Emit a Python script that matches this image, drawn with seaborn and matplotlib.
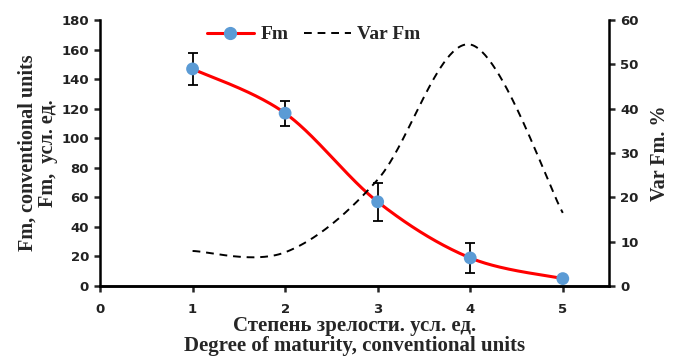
import numpy as np
import pandas as pd
import matplotlib
matplotlib.use("Agg")
import matplotlib.pyplot as plt
from matplotlib.lines import Line2D
import seaborn as sns

# ---- data ----
degree = [1, 2, 3, 4, 5]
fm = [147, 117, 57, 19, 5]
fm_err = [11, 8.5, 13, 10, 0]
var_fm = [7.9, 7.6, 24, 54.5, 16.5]
x_ticks = [0, 1, 2, 3, 4, 5]
y_ticks = [0, 20, 40, 60, 80, 100, 120, 140, 160, 180]
y2_ticks = [0, 10, 20, 30, 40, 50, 60]


def smooth(xs, ys, n=60):
    """Excel-style smoothed line (Bezier through points with Catmull-Rom tangents)."""
    xs = np.asarray(xs, float)
    ys = np.asarray(ys, float)
    P = np.column_stack([xs, ys])
    out = []
    for i in range(len(P) - 1):
        p0 = P[i - 1] if i > 0 else P[i]
        p1 = P[i]
        p2 = P[i + 1]
        p3 = P[i + 2] if i + 2 < len(P) else P[i + 1]
        c1 = p1 + (p2 - p0) / 6.0
        c2 = p2 - (p3 - p1) / 6.0
        t = np.linspace(0, 1, n)[:, None]
        seg = ((1 - t) ** 3) * p1 + 3 * ((1 - t) ** 2) * t * c1 + 3 * (1 - t) * t ** 2 * c2 + t ** 3 * p2
        out.append(seg if i == 0 else seg[1:])
    seg = np.vstack(out)
    return seg[:, 0], seg[:, 1]


sns.set_style("ticks")
plt.rcParams['font.family'] = ['DejaVu Sans']

fig = plt.figure(figsize=(6.73, 3.6), dpi=100)
ax = fig.add_axes([0.1486, 0.2056, 0.7564, 0.7384])
ax2 = ax.twinx()

sx, sy = smooth(degree, fm)
df_fm = pd.DataFrame({"x": sx, "y": sy})
sns.lineplot(data=df_fm, x="x", y="y", ax=ax, color="#FF0000", lw=2.2, sort=False, zorder=3)
ax.errorbar(degree[:4], fm[:4], yerr=fm_err[:4], fmt="none", ecolor="black", elinewidth=1.3,
            capsize=3.5, capthick=1.3, zorder=4)
sns.scatterplot(x=degree, y=fm, ax=ax, color="#5B9BD5", s=85, edgecolor="none", zorder=5)

vx, vy = smooth(degree, var_fm)
df_var = pd.DataFrame({"x": vx, "y": vy})
sns.lineplot(data=df_var, x="x", y="y", ax=ax2, color="black", lw=1.4, sort=False,
             dashes=False, linestyle=(0, (4, 3)))

ax.set_xlim(0, 5.5)
ax.set_ylim(0, 180)
ax2.set_ylim(0, 60)
ax.set_xticks(x_ticks)
ax.set_yticks(y_ticks)
ax2.set_yticks(y2_ticks)

tick_font = dict(fontsize=9.5, fontweight="bold", color="#222222")
ax.set_xticklabels([str(v) for v in x_ticks], **tick_font)
ax.set_yticklabels([str(v) for v in y_ticks], **tick_font)
ax2.set_yticklabels([str(v) for v in y2_ticks], **tick_font)

for a in (ax, ax2):
    for s in a.spines.values():
        s.set_linewidth(1.8)
        s.set_color("black")
    a.spines["top"].set_visible(False)
    a.grid(False)
ax.spines["right"].set_visible(False)
ax2.spines["left"].set_visible(False)
ax.tick_params(axis="x", direction="out", length=4, width=1.8, pad=8)
ax.tick_params(axis="y", direction="out", length=4, width=1.8, pad=4)
ax2.tick_params(axis="y", direction="out", length=4, width=1.8, pad=4)

serif = ["Liberation Serif", "DejaVu Serif"]
ax.set_xlabel("Степень зрелости. усл. ед.\nDegree of maturity, conventional units",
              family=serif, fontsize=15, fontweight="bold", labelpad=0, linespacing=1.0)
ax.set_ylabel("Fm, conventional units\nFm,  усл. ед.", family=serif, fontsize=14.5,
              fontweight="bold", labelpad=2, linespacing=1.05)
ax2.set_ylabel("Var Fm. %", family=serif, fontsize=14.5, fontweight="bold", labelpad=8)

handles = [
    Line2D([0], [0], color="#FF0000", lw=2.2, marker="o", markersize=8.5,
           markerfacecolor="#5B9BD5", markeredgecolor="#5B9BD5"),
    Line2D([0], [0], color="black", lw=1.4, linestyle=(0, (4, 3))),
]
leg = ax.legend(handles, ["Fm", "Var Fm"], loc="upper center", bbox_to_anchor=(0.42, 1.045),
                ncol=2, frameon=False, prop=dict(family=serif, size=14, weight="bold"),
                handlelength=2.4, columnspacing=0.8, handletextpad=0.35)

fig.savefig("out.png", dpi=100)
